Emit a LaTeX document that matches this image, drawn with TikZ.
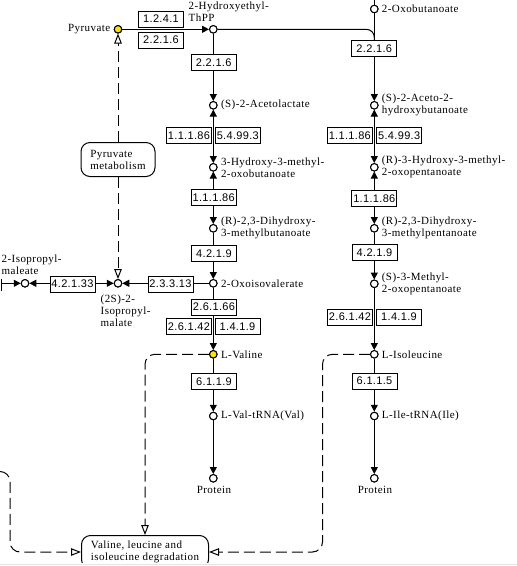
\documentclass[tikz,border=0pt]{standalone}
\usepackage{fontspec}
\setmainfont{Liberation Serif}
\newfontfamily\cpdfont[LetterSpace=4]{Liberation Serif}
\newfontfamily\ecfont[LetterSpace=3]{Liberation Sans}
\usetikzlibrary{arrows.meta}
\definecolor{kyellow}{RGB}{250,225,20}
\tikzset{
  cpd/.style={circle, draw, fill=white, line width=1pt, minimum size=7.5pt, inner sep=0pt},
  ycpd/.style={cpd, fill=kyellow},
  ec/.style={draw, fill=white, line width=1pt, minimum width=45pt, minimum height=16pt, inner sep=0pt, font=\ecfont\fontsize{11}{12}\selectfont},
  lbl/.style={inner sep=0pt, font=\cpdfont\fontsize{11}{12}\selectfont, align=left},
  mapbox/.style={draw, fill=white, rounded corners=9pt, line width=1pt, inner sep=0pt, align=left, font=\cpdfont\fontsize{11}{12}\selectfont},
  ln/.style={line width=1pt},
  arr/.style={ln, -{Triangle[length=7pt,width=7pt]}},
  barr/.style={ln, {Triangle[length=7pt,width=7pt]}-{Triangle[length=7pt,width=7pt]}},
  dsh/.style={line width=1pt, dash pattern=on 11pt off 5pt},
  darr/.style={dsh, -{Triangle[open,length=10pt,width=7.5pt,fill=white]}}
}
\begin{document}
\begin{tikzpicture}[x=1pt,y=-1pt]
\clip (0,0) rectangle (517,566);
\fill[white] (0,0) rectangle (517,566);

% compounds
\node[ycpd] (pyr)  at (118,29.3) {};
\node[cpd]  (heth) at (213.3,29.3) {};
\node[cpd]  (oxob) at (374.3,9) {};
\node[cpd]  (acl)  at (213.3,105.3) {};
\node[cpd]  (ahb)  at (374.3,105.3) {};
\node[cpd]  (hmob) at (213.3,167.3) {};
\node[cpd]  (hmop) at (374.3,167.3) {};
\node[cpd]  (dhmb) at (213.3,228.3) {};
\node[cpd]  (dhmp) at (374.3,228.3) {};
\node[cpd]  (oiv)  at (213.3,283.3) {};
\node[cpd]  (smop) at (374.3,283.8) {};
\node[cpd]  (ipm)  at (118,283.3) {};
\node[cpd]  (ipmal) at (25,283.3) {};
\node[ycpd] (val)  at (213.3,354.3) {};
\node[cpd]  (ile)  at (374.3,354.3) {};
\node[cpd]  (valt) at (213.3,416) {};
\node[cpd]  (ilet) at (374.3,416) {};
\node[cpd]  (prot1) at (213.3,478.3) {};
\node[cpd]  (prot2) at (374.3,478.3) {};

% map boxes
\node[mapbox, minimum width=74pt, minimum height=34pt] (pmet) at (118,159.5) {Pyruvate\\metabolism};
\node[mapbox, minimum width=127pt, minimum height=33pt] (degr) at (145,552) {Valine, leucine and\\isoleucine degradation};

% free ends
\coordinate (oxtop) at (374.3,0);
\coordinate (lftin) at (1,283.3);
\coordinate (tickA) at (1.3,278.5);
\coordinate (tickB) at (1.3,290.5);
\coordinate (bI) at (322.5,450);
\coordinate (lin) at (0,471.5);
\coordinate (bL) at (10,500);
\coordinate (e4top) at (374.3,40);

% solid connectors
\draw[arr] (pyr) -- (heth);
\draw[arr] (heth) -- (acl);
\draw[ln, rounded corners=8pt] (heth) -| (e4top);
\draw[ln] (oxtop) -- (oxob);
\draw[arr] (oxob) -- (ahb);
\draw[barr] (acl) -- (hmob);
\draw[barr] (hmob) -- (dhmb);
\draw[arr] (dhmb) -- (oiv);
\draw[arr] (oiv) -- (val);
\draw[arr] (val) -- (valt);
\draw[arr] (valt) -- (prot1);
\draw[barr] (ahb) -- (hmop);
\draw[barr] (hmop) -- (dhmp);
\draw[arr] (dhmp) -- (smop);
\draw[arr] (smop) -- (ile);
\draw[arr] (ile) -- (ilet);
\draw[arr] (ilet) -- (prot2);
\draw[arr] (oiv) -- (ipm);
\draw[barr] (ipm) -- (ipmal);
\draw[arr] (lftin) -- (ipmal);
\draw[ln] (tickA) -- (tickB);

% dashed connectors
\draw[darr] (pmet) -- (pyr);
\draw[darr] (pmet) -- (ipm);
\draw[darr, rounded corners=10pt] (val) -| (degr.north);
\draw[darr, rounded corners=10pt] (ile) -| (bI) |- (degr.east);
\draw[darr, rounded corners=10pt] (lin) -| (bL) |- (degr.west);

% enzymes
\node[ec] (e1)  at (161,19) {1.2.4.1};
\node[ec] (e2)  at (161,40) {2.2.1.6};
\node[ec] (e3)  at (213.7,62.3) {2.2.1.6};
\node[ec] (e4)  at (374.3,48.3) {2.2.1.6};
\node[ec] (e5)  at (189,135.8) {1.1.1.86};
\node[ec] (e6)  at (237.8,135.8) {5.4.99.3};
\node[ec] (e7)  at (349.8,135.3) {1.1.1.86};
\node[ec] (e8)  at (399.2,135.3) {5.4.99.3};
\node[ec] (e9)  at (213.7,197.7) {1.1.1.86};
\node[ec] (e10) at (374.3,198.3) {1.1.1.86};
\node[ec] (e11) at (214,253.3) {4.2.1.9};
\node[ec] (e12) at (374.5,252.8) {4.2.1.9};
\node[ec] (e13) at (170.5,284) {2.3.3.13};
\node[ec] (e14) at (72.5,284) {4.2.1.33};
\node[ec] (e15) at (214,307) {2.6.1.66};
\node[ec] (e16) at (189,326.7) {2.6.1.42};
\node[ec] (e17) at (237.5,326.7) {1.4.1.9};
\node[ec] (e18) at (350,317) {2.6.1.42};
\node[ec] (e19) at (399,317) {1.4.1.9};
\node[ec] (e20) at (214,381.7) {6.1.1.9};
\node[ec] (e21) at (374.5,381) {6.1.1.5};

% redraw compounds on top
\foreach \c in {pyr,val}{\node[ycpd] at (\c) {};}
\foreach \c in {heth,oxob,acl,ahb,hmob,hmop,dhmb,dhmp,oiv,smop,ipm,ipmal,ile,valt,ilet,prot1,prot2}{\node[cpd] at (\c) {};}

% labels
\node[lbl, anchor=east] (pyrL) at (110.5,29.3) {Pyruvate};
\node[lbl, anchor=west] (hethL) at (188.5,11.5) {2-Hydroxyethyl-\\ThPP};
\node[lbl, anchor=west] (oxobL) at (381.7,9) {2-Oxobutanoate};
\node[lbl, anchor=west] (aclL) at (220.8,105.3) {(S)-2-Acetolactate};
\node[lbl, anchor=west] (ahbL) at (381.7,105.3) {(S)-2-Aceto-2-\\hydroxybutanoate};
\node[lbl, anchor=west] (hmobL) at (220.8,167.3) {3-Hydroxy-3-methyl-\\2-oxobutanoate};
\node[lbl, anchor=west] (hmopL) at (381.7,167.3) {(R)-3-Hydroxy-3-methyl-\\2-oxopentanoate};
\node[lbl, anchor=west] (dhmbL) at (220.8,228.3) {(R)-2,3-Dihydroxy-\\3-methylbutanoate};
\node[lbl, anchor=west] (dhmpL) at (381.7,228.3) {(R)-2,3-Dihydroxy-\\3-methylpentanoate};
\node[lbl, anchor=west] (oivL) at (220.8,283.3) {2-Oxoisovalerate};
\node[lbl, anchor=west] (smopL) at (381.7,284.3) {(S)-3-Methyl-\\2-oxopentanoate};
\node[lbl, anchor=west] (ipmL) at (100.5,310.5) {(2S)-2-\\Isopropyl-\\malate};
\node[lbl, anchor=west] (ipmalL) at (1.5,264.5) {2-Isopropyl-\\maleate};
\node[lbl, anchor=west] (valL) at (220.8,354.3) {L-Valine};
\node[lbl, anchor=west] (ileL) at (381.7,354.3) {L-Isoleucine};
\node[lbl, anchor=west] (valtL) at (220.8,416) {L-Val-tRNA(Val)};
\node[lbl, anchor=west] (iletL) at (381.7,416) {L-Ile-tRNA(Ile)};
\node[lbl] (prot1L) at (214,489.5) {Protein};
\node[lbl] (prot2L) at (375,489.5) {Protein};

% bottom edge of the view
\fill[white] (0,563) rectangle (517,566);
\draw[gray!20, line width=1pt] (0,564.5) -- (517,564.5);
\end{tikzpicture}
\end{document}
